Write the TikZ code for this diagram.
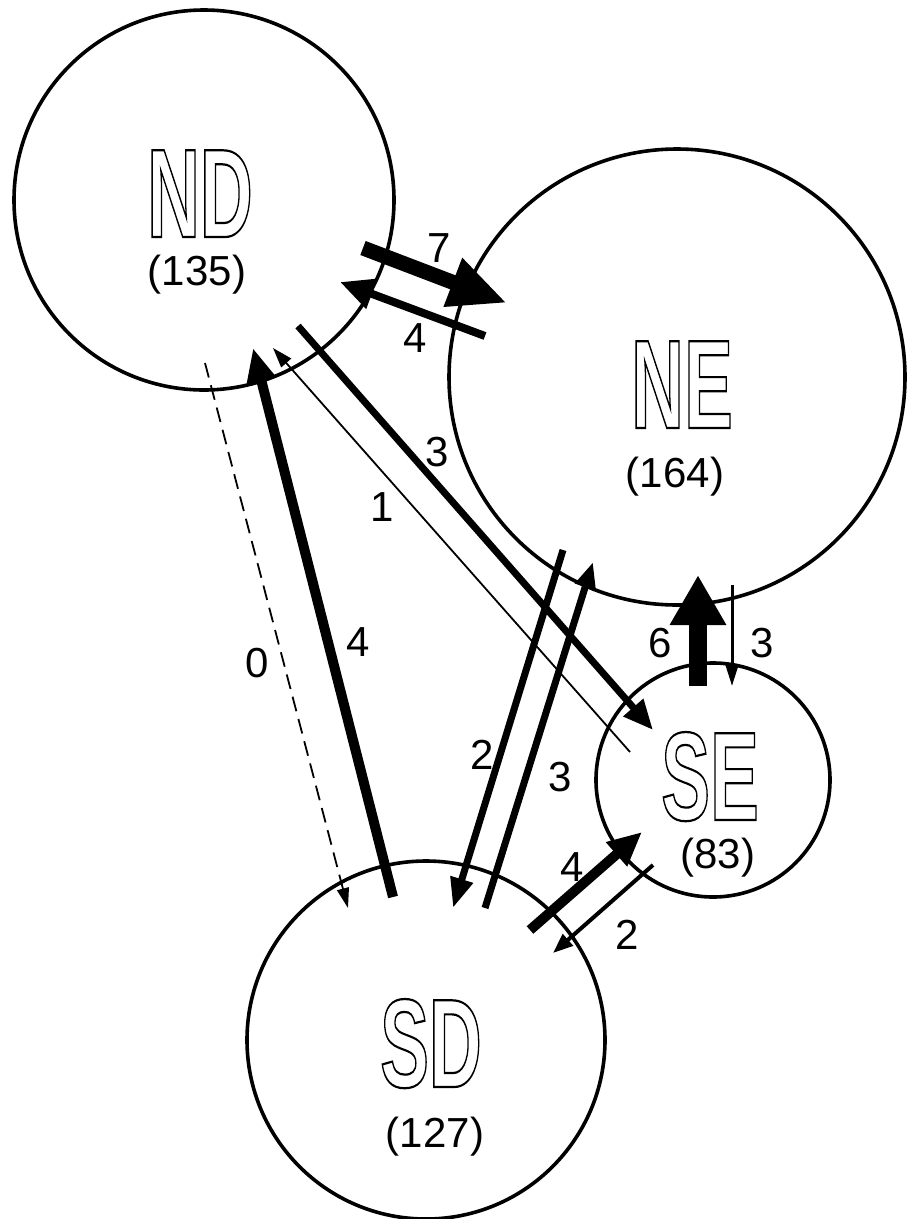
\documentclass[tikz,border=0pt]{standalone}
\usepackage{fontspec}
\setmainfont{Liberation Sans}
\usetikzlibrary{arrows.meta}

% hollow (outlined) region labels
\newcommand{\hollow}[1]{\special{pdf:code 1 Tr 2.2 w}#1\special{pdf:code 0 Tr}}

\tikzset{
  region/.style={circle, draw, line width=3.6pt, inner sep=0pt},
  regname/.style={font=\fontsize{126}{126}\selectfont\bfseries, inner sep=0pt,
    anchor=base, text depth=0pt},
  regcount/.style={font=\fontsize{42}{42}\selectfont, inner sep=0pt},
  flowlabel/.style={font=\fontsize{42}{42}\selectfont, inner sep=0pt},
  flow/.style={draw, line cap=butt},
}

\begin{document}
\begin{tikzpicture}[x=1pt, y=-1pt]
\useasboundingbox (0,0) rectangle (906,1219);

% regions
\node[region, minimum size=380pt] (ND) at (204,200) {};
\node[region, minimum size=456pt] (NE) at (677,377) {};
\node[region, minimum size=234pt] (SE) at (713,780) {};
\node[region, minimum size=358pt] (SD) at (426,1040) {};

% region names and counts
\node[regname] (NDname) at (200,237) {\scalebox{0.58}[1]{\hollow{ND}}};
\node[regcount] (NDcount) at (197,275) {(135)};
\node[regname] (NEname) at (682,428) {\scalebox{0.58}[1]{\hollow{NE}}};
\node[regcount] (NEcount) at (675,477) {(164)};
\node[regname] (SEname) at (710,820) {\scalebox{0.58}[1]{\hollow{SE}}};
\node[regcount] (SEcount) at (718,858) {(83)};
\node[regname] (SDname) at (431,1087) {\scalebox{0.58}[1]{\hollow{SD}}};
\node[regcount] (SDcount) at (435,1137) {(127)};

% connector end points
\coordinate (a1) at (363,248);  \coordinate (b1) at (507,303);
\coordinate (a2) at (485,336);  \coordinate (b2) at (340,282);
\coordinate (a3) at (298,326);  \coordinate (b3) at (653,730);
\coordinate (a4) at (630,752);  \coordinate (b4) at (273,348);
\coordinate (a5) at (205,363);  \coordinate (b5) at (348,908);
\coordinate (a6) at (393,897);  \coordinate (b6) at (253,348);
\coordinate (a7) at (563,550);  \coordinate (b7) at (453,908);
\coordinate (a8) at (485,908);  \coordinate (b8) at (593,562);
\coordinate (a9) at (698,686);  \coordinate (b9) at (698,575);
\coordinate (a10) at (732,585); \coordinate (b10) at (732,686);
\coordinate (a11) at (530,930); \coordinate (b11) at (642,832);
\coordinate (a12) at (653,865); \coordinate (b12) at (553,953);

% flows
\draw[flow, line width=15pt, -{Triangle[length=58pt, width=48pt]}] (a1) -- (b1);
\draw[flow, line width=8pt, -{Triangle[length=34pt, width=30pt]}] (a2) -- (b2);
\draw[flow, line width=7pt, -{Triangle[length=30pt, width=25pt]}] (a3) -- (b3);
\draw[flow, line width=1.8pt, -{Triangle[length=20pt, width=13pt]}] (a4) -- (b4);
\draw[flow, line width=1.8pt, dash pattern=on 15pt off 8pt, -{Triangle[length=20pt, width=12pt]}] (a5) -- (b5);
\draw[flow, line width=10pt, -{Triangle[length=34pt, width=28pt]}] (a6) -- (b6);
\draw[flow, line width=7pt, -{Triangle[length=30pt, width=22pt]}] (a7) -- (b7);
\draw[flow, line width=7pt, -{Triangle[length=26pt, width=20pt]}] (a8) -- (b8);
\draw[flow, line width=18pt, -{Triangle[length=50pt, width=53pt]}] (a9) -- (b9);
\draw[flow, line width=3pt, -{Triangle[length=22pt, width=13pt]}] (a10) -- (b10);
\draw[flow, line width=10pt, -{Triangle[length=34pt, width=30pt]}] (a11) -- (b11);
\draw[flow, line width=4pt, -{Triangle[length=20pt, width=15pt]}] (a12) -- (b12);

% flow counts
\node[flowlabel] (l1) at (439,248) {7};
\node[flowlabel] (l2) at (415,338) {4};
\node[flowlabel] (l3) at (437,452) {3};
\node[flowlabel] (l4) at (382,507) {1};
\node[flowlabel] (l5) at (257,663) {0};
\node[flowlabel] (l6) at (358,642) {4};
\node[flowlabel] (l7) at (482,755) {2};
\node[flowlabel] (l8) at (560,777) {3};
\node[flowlabel] (l9) at (660,643) {6};
\node[flowlabel] (l10) at (762,643) {3};
\node[flowlabel] (l11) at (572,867) {4};
\node[flowlabel] (l12) at (627,935) {2};
\end{tikzpicture}
\end{document}
